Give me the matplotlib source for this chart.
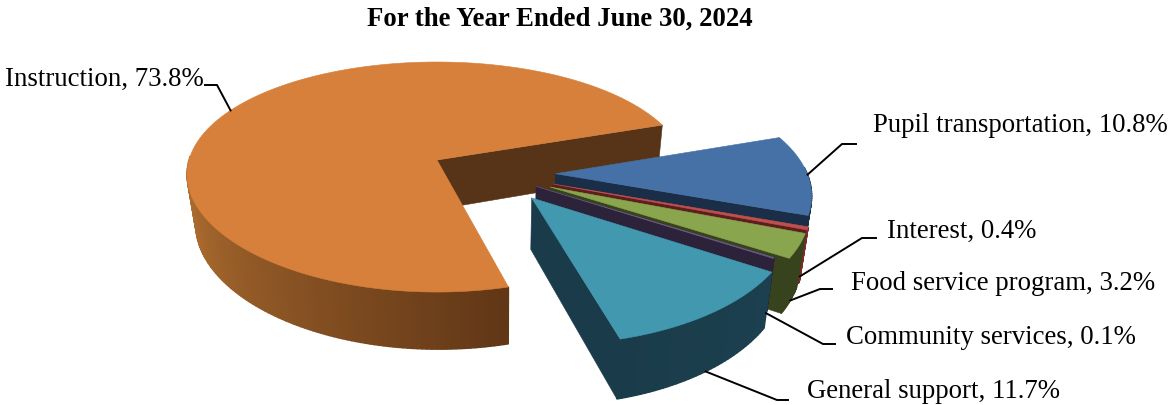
import numpy as np
import matplotlib
matplotlib.use("Agg")
import matplotlib.pyplot as plt
from matplotlib.colors import to_rgb

plt.rcParams["font.family"] = ["Liberation Serif", "DejaVu Serif"]

categories = ["Instruction", "Pupil transportation", "Interest",
              "Food service program", "Community services", "General support"]
percents = [73.8, 10.8, 0.4, 3.2, 0.1, 11.7]
title = "For the Year Ended June 30, 2024"

# colours per slice: top face, cut faces, rim start, rim end
top_colors = ["#D6803B", "#4571A6", "#C0504D", "#89A54E", "#71588F", "#4198AF"]
cut_colors = ["#573417", "#1B2E47", "#5C1F1E", "#36431C", "#2C2239", "#1A3C4A"]
rim_from = ["#C07A36", "#1B2E47", "#7A2A28", "#36431C", "#2C2239", "#1A3C4A"]
rim_to = ["#603616", "#1B2E47", "#7A2A28", "#36431C", "#2C2239", "#1C4050"]
explode = [0.25, 0.25, 0.25, 0.25, 0.20, 0.25]

# leader lines: how far down the rim they start, elbow, elbow end, text position
leader_drop = [0.0, 0.0, 0.9, 1.0, 1.0, 1.0]
elbows = [(217, 85), (842, 144), (862, 238), (820, 289), (823, 344), (777, 400)]
elbow_ends = [(205, 85), (856, 144), (876, 238), (832, 289), (835, 344), (788, 400)]
label_pos = [(5, 79), (873, 126), (887, 231), (851, 284), (846, 338), (807, 391)]

START_ANGLE = 19.0
X0, Y0 = 437, 160
A, B = 248, 112.5
K_X, K_Y = 0.125, 0.148


def project(u, v):
    x = X0 + A * u / (1 + K_X * v)
    y = Y0 - B * v / (1 + K_Y * v)
    return x, y


def drop(x, y, frac=1.0):
    # bottom face sits lower and pulls in slightly towards the middle
    return x - frac * 0.028 * (x - 500), y + frac * (47 + 0.06 * (y - 123))


def mix(c0, c1, t):
    c0, c1 = np.array(to_rgb(c0)), np.array(to_rgb(c1))
    return tuple(c0 + (c1 - c0) * t)


# slice angles, clockwise from the top-right corner of the large slice
spans = np.array(percents) * 3.6
ends = START_ANGLE - np.cumsum(spans[1:])
theta_hi = np.r_[START_ANGLE + spans[0], START_ANGLE, ends[:-1]]
theta_lo = np.r_[START_ANGLE, ends]
mids = np.radians((theta_hi + theta_lo) / 2)
offs_u = np.array(explode) * np.cos(mids) - explode[0] * np.cos(mids[0])
offs_v = np.array(explode) * np.sin(mids) - explode[0] * np.sin(mids[0])

fig = plt.figure(figsize=(11.68, 4.05), dpi=100)
ax = fig.add_axes([0, 0, 1, 1])
ax.set_xlim(0, 1168)
ax.set_ylim(405, 0)
ax.axis("off")


def poly(xs, ys, color, lw=0.4):
    ax.fill(xs, ys, facecolor=color, edgecolor=color, lw=lw)


for i in range(len(percents)):
    ou, ov = offs_u[i], offs_v[i]
    t = np.radians(np.linspace(theta_lo[i], theta_hi[i], max(8, int(spans[i]))))
    rx, ry = project(ou + np.cos(t), ov + np.sin(t))
    ax0, ay0 = project(ou, ov)
    bx, by = drop(rx, ry)
    abx, aby = drop(ax0, ay0)

    # the clockwise cut face is the one turned towards the viewer
    poly([ax0, rx[0], bx[0], abx], [ay0, ry[0], by[0], aby], cut_colors[i])

    # rim, a strip per step so it can carry the shading; back part stays hidden
    if i == 0:
        shade = np.clip((np.degrees(t) - 172) / (theta_hi[0] - 172), 0, 1)
    else:
        shade = np.linspace(0, 1, len(t))
    for j in range(len(t) - 1):
        if np.sin(t[j]) < 0.05:
            poly([rx[j], rx[j + 1], bx[j + 1], bx[j]],
                 [ry[j], ry[j + 1], by[j + 1], by[j]],
                 mix(rim_from[i], rim_to[i], shade[j]), lw=1.0)

    # top face
    poly(np.r_[ax0, rx], np.r_[ay0, ry], top_colors[i])

# leader lines and labels
for i, name in enumerate(categories):
    ou, ov = offs_u[i], offs_v[i]
    sx, sy = project(ou + np.cos(mids[i]), ov + np.sin(mids[i]))
    sx, sy = drop(sx, sy, leader_drop[i])
    ax.plot([sx, elbows[i][0], elbow_ends[i][0]], [sy, elbows[i][1], elbow_ends[i][1]],
            color="black", lw=1.4, solid_joinstyle="miter")
    ax.text(label_pos[i][0], label_pos[i][1], f"{name}, {percents[i]}%",
            fontsize=19.3, color="black", ha="left", va="center")

ax.text(560, 19, title, fontsize=19.3, fontweight="bold", ha="center", va="center")

fig.savefig("out.png", dpi=100)
